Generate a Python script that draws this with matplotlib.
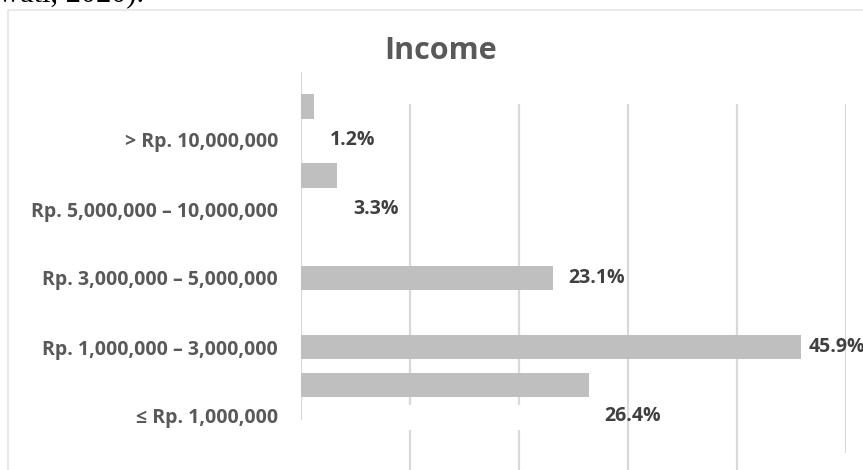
import numpy as np
import matplotlib
matplotlib.use("Agg")
import matplotlib.pyplot as plt
from matplotlib.lines import Line2D

# Income brackets, bottom to top as drawn on the y axis
categories = ["≤ Rp. 1,000,000",
              "Rp. 1,000,000 – 3,000,000",
              "Rp. 3,000,000 – 5,000,000",
              "Rp. 5,000,000 – 10,000,000",
              "> Rp. 10,000,000"]
percent = [26.4, 45.9, 23.1, 3.3, 1.2]
value_labels = ["26.4%", "45.9%", "23.1%", "3.3%", "1.2%"]

# some bars sit a little off their category line
bar_shift = [0.45, 0.0, 0.0, 0.48, 0.49]
label_pad = [11.5, 5.0, 11.5, 11.5, 11.5]

text_grey = "#595959"
bar_grey = "#bfbfbf"
grid_grey = "#d9d9d9"
font = ["Open Sans", "DejaVu Sans"]

W, H = 863, 470
fig = plt.figure(figsize=(W / 100, H / 100), dpi=100)
fig.patch.set_facecolor("white")

# axes: 0..50 % across x, one category every 69 px in y
x0_px, x1_px = 301, 846
ax = fig.add_axes([x0_px / W, 0, (x1_px - x0_px) / W, 1])
px_per_cat = 69.0
base_px = 416.0
ax.set_xlim(0, 50)
ax.set_ylim((base_px - H) / px_per_cat, base_px / px_per_cat)
ax.set_facecolor("none")
for s in ax.spines.values():
    s.set_visible(False)

def yd(px):
    return (base_px - px) / px_per_cat

# gridlines (broken in places, like the original chart image)
ax.vlines(0, yd(420), yd(72), color=grid_grey, lw=1.6, zorder=0)
for gx in [10, 20]:
    ax.vlines(gx, yd(405), yd(104), color=grid_grey, lw=1.6, zorder=0)
    ax.vlines(gx, yd(H), yd(430), color=grid_grey, lw=1.6, zorder=0)
for gx in [30, 40]:
    ax.vlines(gx, yd(H), yd(104), color=grid_grey, lw=1.6, zorder=0)
ax.vlines(50, yd(453), yd(104), color=grid_grey, lw=1.6, zorder=0)

pos = np.arange(len(categories))
ax.barh(pos + np.array(bar_shift), percent, height=0.36, color=bar_grey, zorder=2)

for p, v, lab, pad in zip(pos, percent, value_labels, label_pad):
    ax.annotate(lab, (v, p), xytext=(pad, 0), textcoords="offset points",
                ha="left", va="center", fontsize=14, fontweight="bold",
                color="#404040", family=font, annotation_clip=False)

ax.set_xticks([])
ax.set_yticks(pos, categories)
ax.tick_params(axis="y", length=0, pad=16.5)
for t in ax.get_yticklabels():
    t.set_fontsize(14)
    t.set_fontweight("bold")
    t.set_color(text_grey)
    t.set_family(font)

fig.text(441 / W, 1 - 59 / H, "Income", ha="center", va="baseline",
         fontsize=22, fontweight="bold", color=text_grey, family=font)

# chart frame and the tail of the paragraph above it
fig.add_artist(Line2D([8 / W, 8 / W, 1.01], [-0.01, 1 - 10 / H, 1 - 10 / H],
                      transform=fig.transFigure, color="#e6e6e6", lw=1.2))
fig.text(-2 / W, 1 - 1 / H, "wati, 2020).", ha="left", va="baseline",
         fontsize=22, color="black", family=["Liberation Serif", "DejaVu Serif"])

fig.savefig("out.png", dpi=100)
